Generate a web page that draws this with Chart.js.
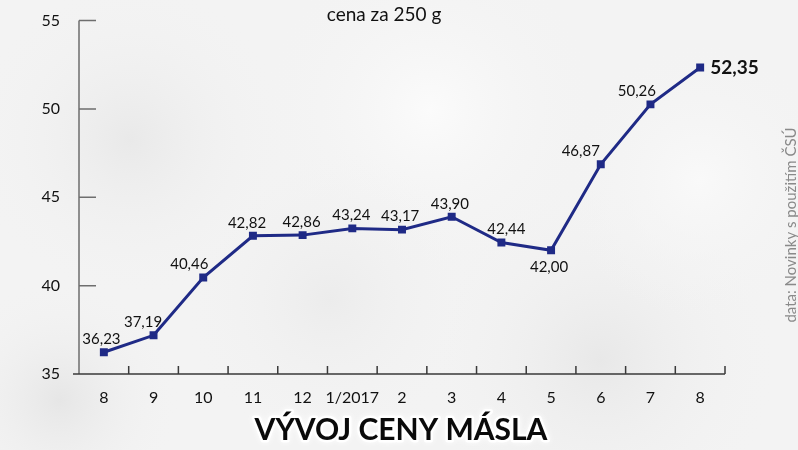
<!DOCTYPE html>
<html>
<head>
<meta charset="utf-8">
<script src="https://cdn.jsdelivr.net/npm/chart.js@4.4.1/dist/chart.umd.min.js"></script>
<style>
  html, body { margin: 0; padding: 0; background: #f4f4f4; }
  #wrap { width: 798px; height: 450px; position: relative; }
</style>
</head>
<body>
<div id="wrap"><canvas id="butter"></canvas></div>
<script>
// months (Aug 2016 - Aug 2017) and butter price per 250 g in CZK
var months = ['8', '9', '10', '11', '12', '1/2017', '2', '3', '4', '5', '6', '7', '8'];
var prices = [36.23, 37.19, 40.46, 42.82, 42.86, 43.24, 43.17, 43.90, 42.44, 42.00, 46.87, 50.26, 52.35];
var yTicks = [35, 40, 45, 50, 55];

var lineColor = '#1f2a86';
var font = 'Lato, "DejaVu Sans", sans-serif';

function fmt(v) {
  return v.toFixed(2).replace('.', ',');
}

var decor = {
  id: 'decor',
  beforeDraw: function (chart) {
    var c = chart.ctx, w = chart.width, h = chart.height;
    c.save();
    c.fillStyle = '#f3f3f3';
    c.fillRect(0, 0, w, h);
    // soft blurred blobs, like the faded photo behind the chart
    var blobs = [[130, 140, 160, '#e9e9e9'], [430, 110, 170, '#fbfbfb'], [330, 300, 150, '#ececec'],
                 [600, 360, 180, '#e8e8e8'], [700, 180, 140, '#f9f9f9'], [60, 400, 120, '#e6e6e6']];
    blobs.forEach(function (b) {
      var g = c.createRadialGradient(b[0], b[1], 0, b[0], b[1], b[2]);
      g.addColorStop(0, b[3]);
      g.addColorStop(1, 'rgba(243,243,243,0)');
      c.fillStyle = g;
      c.fillRect(0, 0, w, h);
    });
    c.restore();
  },
  beforeDatasetsDraw: function (chart) {
    var c = chart.ctx, x = chart.scales.x, y = chart.scales.y, a = chart.chartArea;
    var step = x.getPixelForValue(1) - x.getPixelForValue(0);
    c.save();
    // y axis line and inward ticks
    c.strokeStyle = '#6e6e6e';
    c.lineWidth = 1.5;
    c.beginPath();
    c.moveTo(a.left, y.getPixelForValue(55));
    c.lineTo(a.left, a.bottom);
    yTicks.forEach(function (t) {
      if (t === 35) return;
      var py = y.getPixelForValue(t);
      c.moveTo(a.left, py);
      c.lineTo(a.left + 17, py);
    });
    c.stroke();
    // x axis line and upward ticks at category boundaries
    c.strokeStyle = '#3a3a3a';
    c.beginPath();
    c.moveTo(a.left - 6, a.bottom);
    c.lineTo(a.right, a.bottom);
    for (var i = 0; i < months.length; i++) {
      var px = x.getPixelForValue(i) + step / 2;
      c.moveTo(px, a.bottom);
      c.lineTo(px, a.bottom - 8);
    }
    c.stroke();
    c.restore();
  },
  afterDatasetsDraw: function (chart) {
    var c = chart.ctx, pts = chart.getDatasetMeta(0).data;
    c.save();
    c.fillStyle = '#111';
    c.textBaseline = 'middle';
    pts.forEach(function (p, i) {
      var v = prices[i];
      if (i === pts.length - 1) {
        c.font = 'bold 19px ' + font;
        c.textAlign = 'left';
        c.fillText(fmt(v), p.x + 10, p.y);
        return;
      }
      c.font = '15px ' + font;
      c.textAlign = 'center';
      var prev = i > 0 ? prices[i - 1] : v;
      var next = prices[i + 1];
      if (v < prev && next - v > 2) {
        c.fillText(fmt(v), p.x - 2, p.y + 17);
        return;
      }
      // shift the label left when the line climbs through the point
      var dy = function (k) { return i + k >= 0 && i + k < pts.length ? pts[i].y - pts[i + k].y : 0; };
      var inSlope = Math.max(0, -dy(-1)) / 50;
      var outSlope = Math.max(0, dy(1)) / 50;
      var dx = -Math.min(20, 7 * (inSlope + outSlope));
      if (next < v && prev > v) dx = 5;
      c.fillText(fmt(v), p.x + dx, p.y - 13);
    });
    c.restore();
  },
  afterDraw: function (chart) {
    var c = chart.ctx;
    c.save();
    c.textAlign = 'center';
    c.textBaseline = 'middle';
    c.fillStyle = '#111';
    c.font = '19px ' + font;
    c.fillText('cena za 250 g', 384, 15);

    c.font = 'bold 30px ' + font;
    c.lineJoin = 'round';
    c.strokeStyle = 'rgba(255,255,255,0.95)';
    c.lineWidth = 5;
    c.shadowColor = 'rgba(255,255,255,0.9)';
    c.shadowBlur = 6;
    c.strokeText('VÝVOJ CENY MÁSLA', 401, 430);
    c.shadowBlur = 0;
    c.fillStyle = '#0a0a0a';
    c.fillText('VÝVOJ CENY MÁSLA', 401, 430);

    c.translate(791, 225);
    c.rotate(-Math.PI / 2);
    c.fillStyle = '#8a8a8a';
    c.font = '15px ' + font;
    c.fillText('data: Novinky s použitím ČSÚ', 0, 0);
    c.restore();
  }
};

var ctx = document.getElementById('butter').getContext('2d');
var chart = new Chart(ctx, {
  type: 'line',
  data: {
    labels: months,
    datasets: [{
      label: 'cena za 250 g',
      data: prices,
      borderColor: lineColor,
      backgroundColor: lineColor,
      borderWidth: 3,
      pointStyle: 'rect',
      pointRadius: 3.5,
      pointBackgroundColor: lineColor,
      pointBorderColor: lineColor,
      tension: 0,
      clip: false
    }]
  },
  options: {
    responsive: true,
    maintainAspectRatio: false,
    animation: false,
    layout: { padding: { left: 0, right: 73, top: 15, bottom: 0 } },
    plugins: {
      legend: { display: false },
      tooltip: { enabled: false },
      title: { display: false }
    },
    scales: {
      x: {
        offset: true,
        grid: { display: false },
        border: { display: false },
        ticks: { color: '#111', font: { family: font, size: 16 }, padding: 6, maxRotation: 0, autoSkip: false },
        afterFit: function (s) { s.height = 76; }
      },
      y: {
        min: 35,
        max: 55,
        grid: { display: false },
        border: { display: false },
        ticks: { stepSize: 5, color: '#111', font: { family: font, size: 16 }, padding: 11 },
        afterFit: function (s) { s.width = 79; }
      }
    }
  },
  plugins: [decor]
});
</script>
</body>
</html>
